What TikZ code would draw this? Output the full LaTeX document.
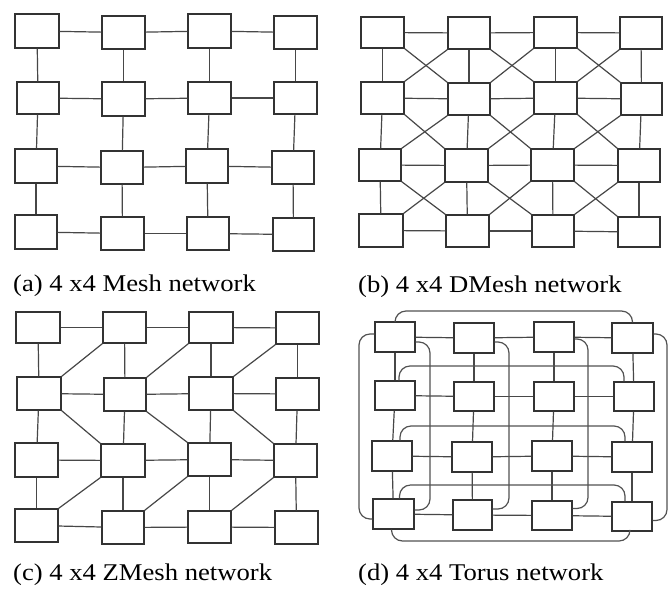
\documentclass[tikz,border=0pt]{standalone}
\usepackage{fontspec}
\usepackage{graphicx}
\setmainfont{Liberation Serif}
\tikzset{
  box/.style={rectangle, draw=black!80, line width=1.3pt, fill=white, inner sep=0pt},
  link/.style={draw=black!72, line width=1.2pt},
  wrap/.style={draw=black!68, line width=1.2pt, rounded corners=11pt},
  captext/.style={anchor=base west, inner sep=0pt, font=\fontsize{24}{28}\selectfont}
}
\newcommand\bx[5]{\node[box, minimum width={#4-#2}, minimum height={#5-#3}] (#1) at ({(#2+#4)/2},{(#3+#5)/2}) {};}
\newcommand\capt[1]{\scalebox{1.11}[1]{#1}}
\begin{document}
\begin{tikzpicture}[x=1pt, y=-1pt]
\useasboundingbox[fill=white] (0,0) rectangle (671,592);
% ---------- (a) Mesh ----------
\bx{a00}{15}{14}{59}{48}   \bx{a01}{102}{16}{145}{49}  \bx{a02}{188}{14}{231}{48}  \bx{a03}{274}{16}{317}{49}
\bx{a10}{17}{82}{59}{114}  \bx{a11}{102}{82}{145}{116} \bx{a12}{188}{82}{231}{114} \bx{a13}{274}{82}{317}{114}
\bx{a20}{15}{149}{57}{183} \bx{a21}{101}{151}{143}{184} \bx{a22}{186}{149}{228}{183} \bx{a23}{272}{151}{314}{184}
\bx{a30}{15}{215}{57}{249} \bx{a31}{101}{217}{144}{250} \bx{a32}{187}{217}{229}{250} \bx{a33}{273}{218}{314}{251}
% ---------- (b) DMesh ----------
\bx{b00}{361}{17}{404}{48}  \bx{b01}{448}{17}{490}{49}  \bx{b02}{534}{17}{577}{48}  \bx{b03}{620}{17}{662}{49}
\bx{b10}{361}{82}{404}{114} \bx{b11}{448}{83}{490}{115} \bx{b12}{534}{82}{577}{114} \bx{b13}{621}{83}{662}{115}
\bx{b20}{359}{149}{401}{181} \bx{b21}{445}{149}{488}{182} \bx{b22}{531}{149}{574}{181} \bx{b23}{618}{149}{660}{182}
\bx{b30}{359}{214}{403}{247} \bx{b31}{446}{215}{489}{247} \bx{b32}{532}{215}{574}{247} \bx{b33}{618}{217}{660}{247}
% ---------- (c) ZMesh ----------
\bx{c00}{16}{312}{60}{343}  \bx{c01}{103}{312}{146}{343} \bx{c02}{189}{312}{233}{343} \bx{c03}{276}{312}{319}{344}
\bx{c10}{17}{377}{61}{410}  \bx{c11}{104}{378}{146}{411} \bx{c12}{189}{377}{233}{410} \bx{c13}{276}{378}{319}{410}
\bx{c20}{15}{443}{58}{477}  \bx{c21}{101}{444}{145}{477} \bx{c22}{188}{443}{231}{476} \bx{c23}{274}{444}{317}{477}
\bx{c30}{15}{509}{58}{542}  \bx{c31}{102}{511}{144}{544} \bx{c32}{188}{511}{231}{543} \bx{c33}{275}{511}{318}{544}
% ---------- (d) Torus ----------
\bx{d00}{375}{322}{415}{352} \bx{d01}{454}{323}{494}{353} \bx{d02}{534}{322}{574}{352} \bx{d03}{612}{323}{653}{353}
\bx{d10}{375}{381}{415}{410} \bx{d11}{454}{382}{494}{411} \bx{d12}{534}{382}{574}{411} \bx{d13}{614}{382}{654}{411}
\bx{d20}{372}{441}{412}{471} \bx{d21}{452}{442}{492}{472} \bx{d22}{532}{441}{572}{471} \bx{d23}{612}{442}{652}{472}
\bx{d30}{373}{499}{414}{529} \bx{d31}{453}{500}{492}{530} \bx{d32}{532}{501}{572}{530} \bx{d33}{612}{502}{652}{531}
% ---------- grid links ----------
\foreach \p in {a,b,c,d}{
  \foreach \r in {0,...,3}{
    \foreach \c [evaluate=\c as \n using int(\c+1)] in {0,1,2}{
      \draw[link] (\p\r\c) -- (\p\r\n);
      \draw[link] (\p\c\r) -- (\p\n\r);
    }
  }
}
% ---------- DMesh diagonals ----------
\foreach \r [evaluate=\r as \s using int(\r+1)] in {0,1,2}{
  \foreach \c [evaluate=\c as \n using int(\c+1)] in {0,1,2}{
    \draw[link] (b\r\c.south east) -- (b\s\n.north west);
    \draw[link] (b\r\n.south west) -- (b\s\c.north east);
  }
}
% ---------- ZMesh diagonals ----------
\foreach \c [evaluate=\c as \n using int(\c+1)] in {0,1,2}{
  \draw[link] (c0\n.south west) -- (c1\c.north east);
  \draw[link] (c1\c.south east) -- (c2\n.north west);
  \draw[link] (c2\n.south west) -- (c3\c.north east);
}
% ---------- Torus wrap-arounds ----------
% rows
\draw[wrap] (d00.north) -- (d00.north |- 0,311) -- (d03.north |- 0,311) -- (d03.north);
\draw[wrap] ([xshift=4pt]d10.north) -- ([xshift=4pt]d10.north |- 0,366) -- ([xshift=-10pt]d13.north |- 0,366) -- ([xshift=-10pt]d13.north);
\draw[wrap] ([xshift=8pt]d20.north) -- ([xshift=8pt]d20.north |- 0,426) -- ([xshift=-7pt]d23.north |- 0,426) -- ([xshift=-7pt]d23.north);
\draw[wrap] ([xshift=6pt]d30.north) -- ([xshift=6pt]d30.north |- 0,485) -- ([xshift=-7pt]d33.north |- 0,485) -- ([xshift=-7pt]d33.north);
\draw[wrap] ([xshift=-2pt]d30.south) -- ([xshift=-2pt]d30.south |- 0,541) -- ([xshift=-2pt]d33.south |- 0,541) -- ([xshift=-2pt]d33.south);
% columns
\draw[wrap] ([yshift=3pt]d00.west) -- ([yshift=3pt]d00.west -| 359,0) -- ([yshift=-5pt]d30.west -| 359,0) -- ([yshift=-5pt]d30.west);
\draw[wrap] ([yshift=-5pt]d00.east) -- ([yshift=-5pt]d00.east -| 430,0) -- ([yshift=4pt]d30.east -| 430,0) -- ([yshift=4pt]d30.east);
\draw[wrap] ([yshift=-4pt]d01.east) -- ([yshift=-4pt]d01.east -| 509,0) -- ([yshift=6pt]d31.east -| 509,0) -- ([yshift=6pt]d31.east);
\draw[wrap] ([yshift=-2pt]d02.east) -- ([yshift=-2pt]d02.east -| 588,0) -- ([yshift=7pt]d32.east -| 588,0) -- ([yshift=7pt]d32.east);
\draw[wrap] ([yshift=4pt]d03.east) -- ([yshift=4pt]d03.east -| 667,0) -- ([yshift=-4pt]d33.east -| 667,0) -- ([yshift=-4pt]d33.east);
% ---------- captions ----------
\node[captext] (capa) at (13,291) {\capt{(a) 4 x4 Mesh network}};
\node[captext] (capb) at (358,292) {\capt{(b) 4 x4 DMesh network}};
\node[captext] (capc) at (13,580) {\capt{(c) 4 x4 ZMesh network}};
\node[captext] (capd) at (358,580) {\capt{(d) 4 x4 Torus network}};
\end{tikzpicture}
\end{document}
